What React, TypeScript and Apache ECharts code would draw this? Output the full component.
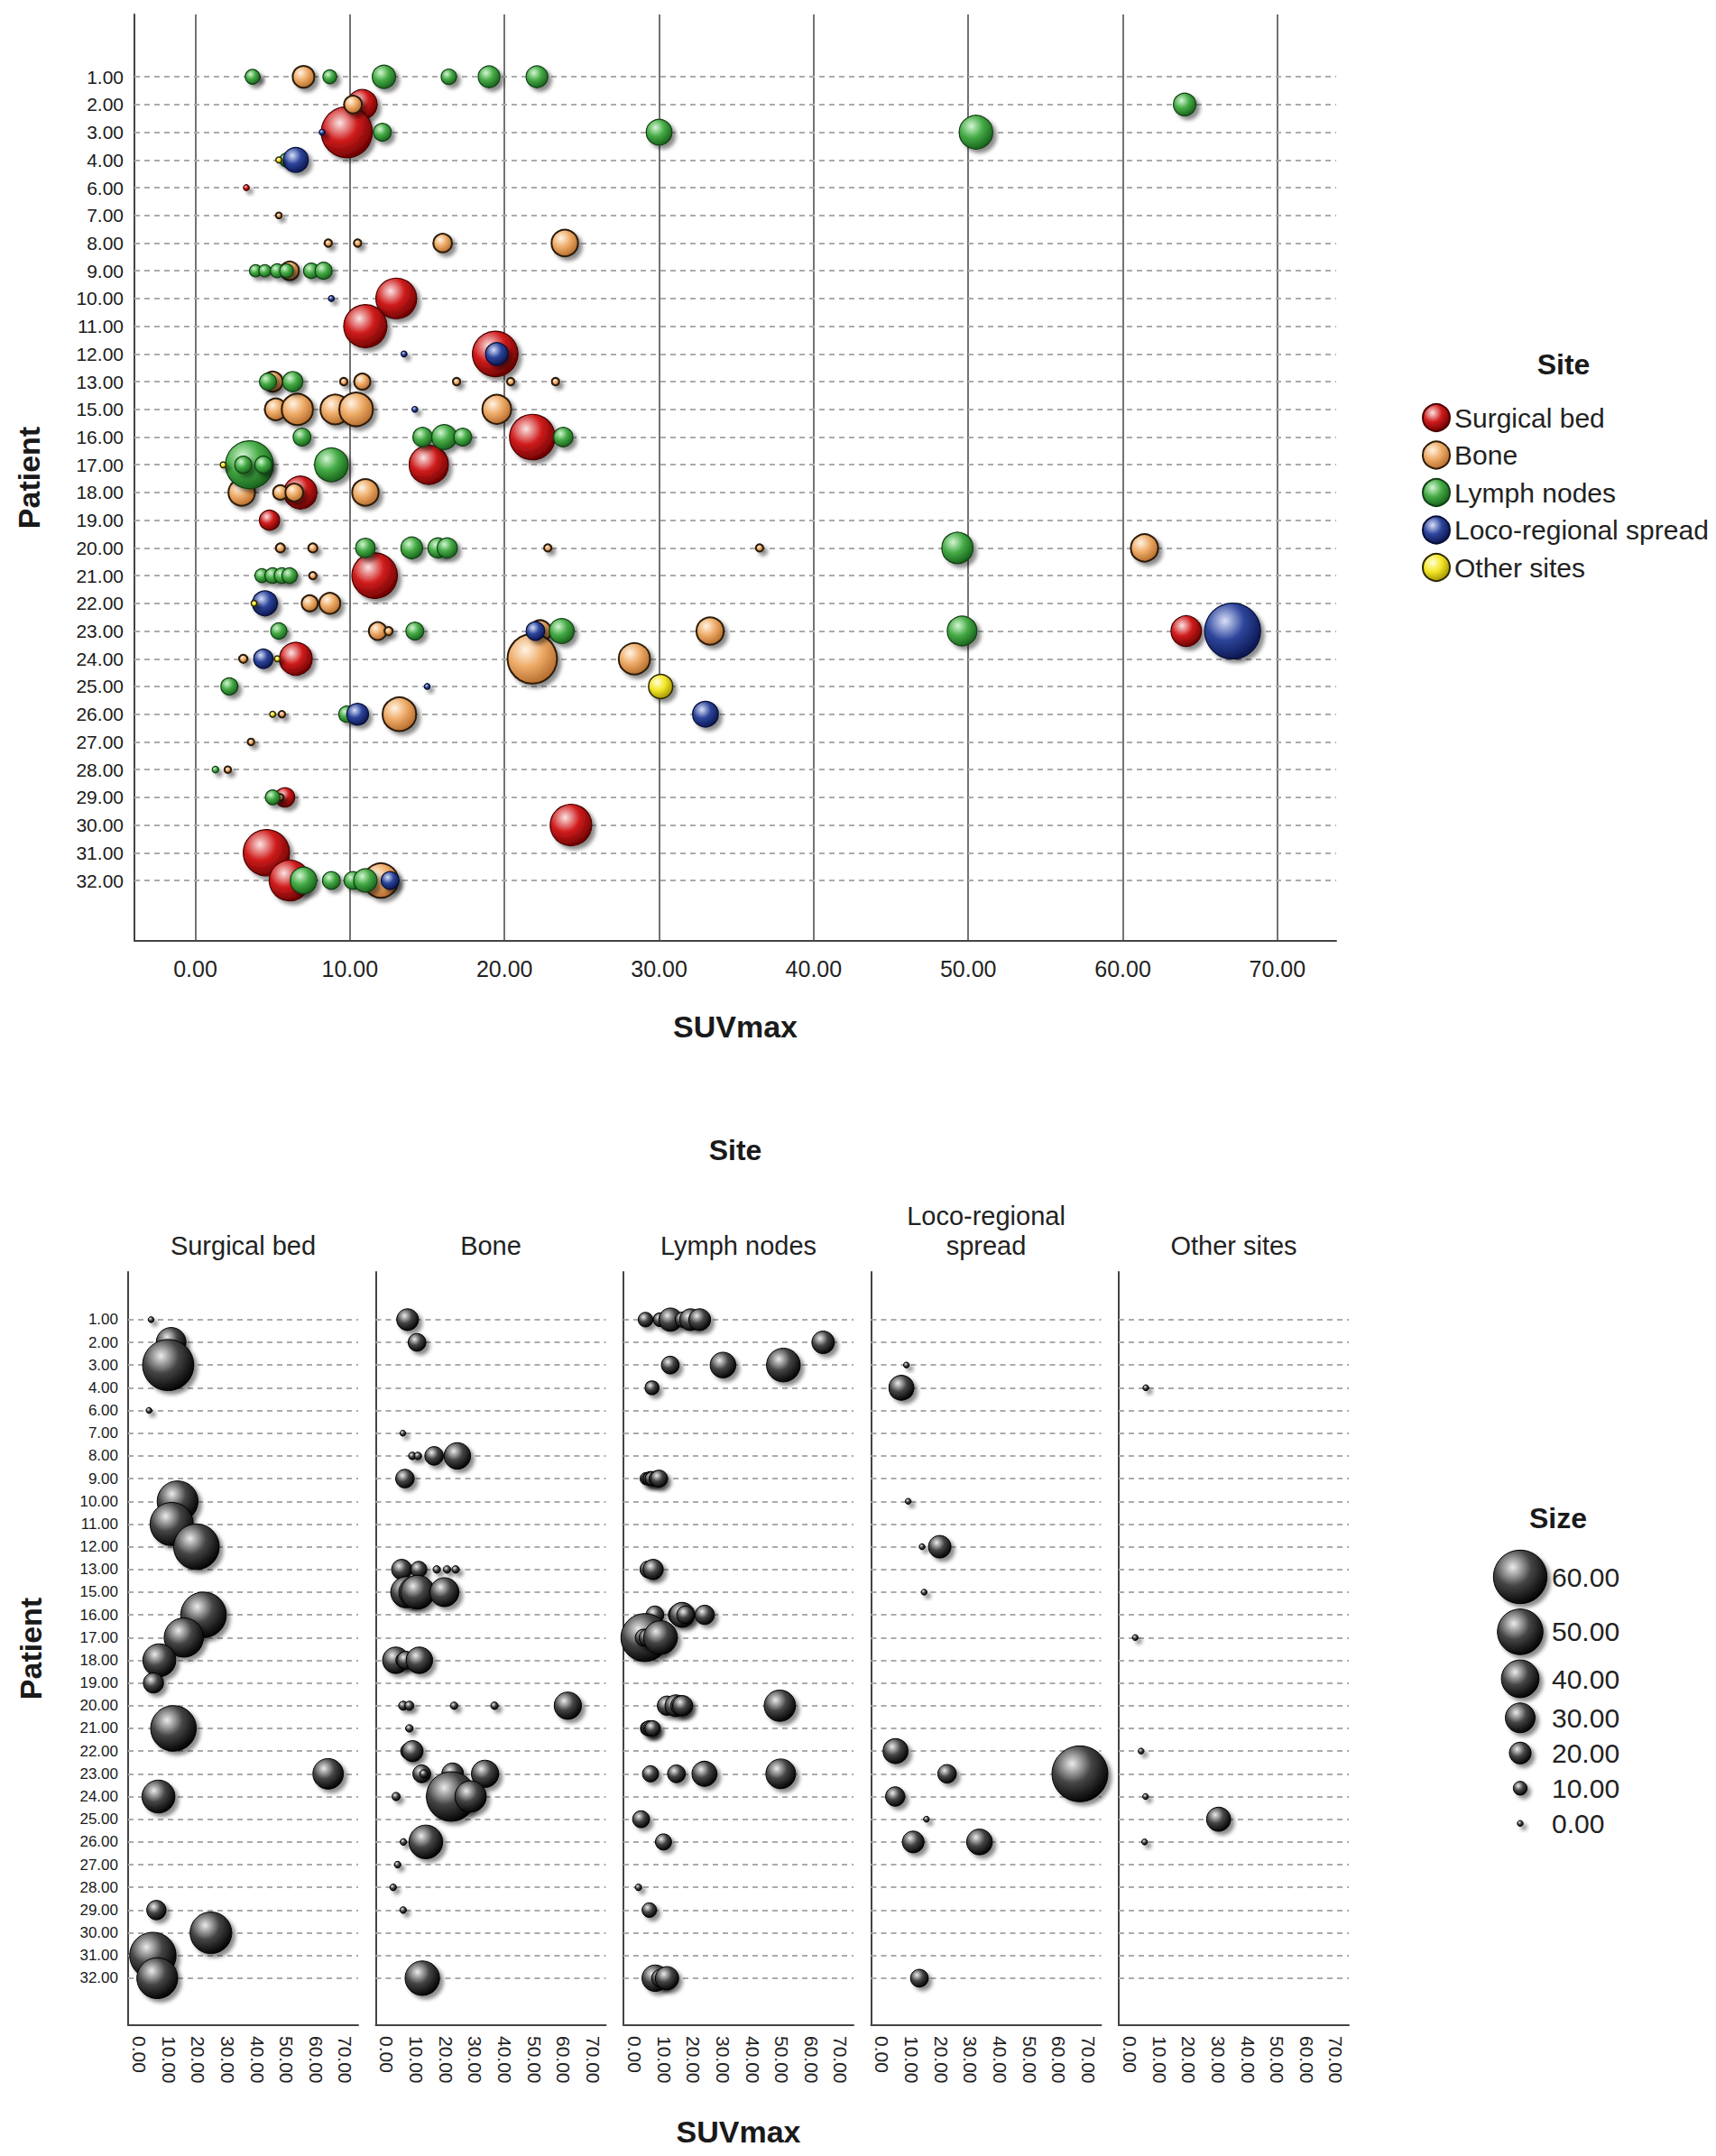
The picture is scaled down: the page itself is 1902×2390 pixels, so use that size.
import React, { useEffect, useRef } from 'react';
import * as echarts from 'echarts';

// ---------- data ----------
const PATIENTS = ['1.00','2.00','3.00','4.00','6.00','7.00','8.00','9.00','10.00','11.00','12.00','13.00','15.00','16.00','17.00','18.00','19.00','20.00','21.00','22.00','23.00','24.00','25.00','26.00','27.00','28.00','29.00','30.00','31.00','32.00'];
const SITES = ['Surgical bed', 'Bone', 'Lymph nodes', 'Loco-regional spread', 'Other sites'];
const PANEL_HEADERS = ['Surgical bed', 'Bone', 'Lymph nodes', 'Loco-regional\nspread', 'Other sites'];
const SUV_TICKS = [0, 10, 20, 30, 40, 50, 60, 70];
const SIZE_TICKS = [60, 50, 40, 30, 20, 10, 0];

// [patient, SUVmax, size]
type Pt = [string, number, number];

const SURGICAL_BED: Pt[] = [
  ['1.00', 4.0, 0], ['2.00', 10.8, 30], ['3.00', 9.8, 57], ['6.00', 3.3, 0],
  ['10.00', 13.0, 44], ['11.00', 11.0, 47], ['12.00', 19.4, 50], ['16.00', 21.8, 50],
  ['17.00', 15.1, 42], ['18.00', 6.8, 34], ['19.00', 4.8, 18], ['21.00', 11.6, 50],
  ['23.00', 64.1, 31], ['24.00', 6.5, 34], ['29.00', 5.8, 17], ['30.00', 24.3, 45],
  ['31.00', 4.6, 51], ['32.00', 6.1, 44],
];

const BONE: Pt[] = [
  ['1.00', 7.0, 20], ['2.00', 10.2, 15], ['7.00', 5.4, 0],
  ['8.00', 8.6, 2], ['8.00', 10.5, 2], ['8.00', 16.0, 16], ['8.00', 23.9, 26],
  ['9.00', 6.1, 16],
  ['13.00', 5.0, 18], ['13.00', 9.6, 2], ['13.00', 10.8, 13], ['13.00', 16.9, 2], ['13.00', 20.4, 2], ['13.00', 23.3, 2],
  ['15.00', 5.2, 20], ['15.00', 6.6, 32], ['15.00', 9.05, 30], ['15.00', 10.4, 35], ['15.00', 19.5, 29],
  ['18.00', 3.0, 26], ['18.00', 5.5, 11], ['18.00', 6.4, 15], ['18.00', 11.0, 26],
  ['20.00', 5.5, 4], ['20.00', 7.6, 4], ['20.00', 22.8, 2], ['20.00', 36.5, 2], ['20.00', 61.4, 27],
  ['21.00', 7.6, 2], ['22.00', 7.4, 13], ['22.00', 8.7, 19],
  ['23.00', 11.8, 15], ['23.00', 12.5, 3], ['23.00', 22.3, 20], ['23.00', 33.3, 27],
  ['24.00', 3.1, 3], ['24.00', 21.8, 55], ['24.00', 28.4, 32],
  ['26.00', 5.6, 1], ['26.00', 13.2, 35], ['27.00', 3.6, 1], ['28.00', 2.1, 1],
  ['29.00', 5.5, 1], ['32.00', 12.0, 36],
];

const LYMPH_NODES: Pt[] = [
  ['1.00', 3.7, 11], ['1.00', 8.7, 10], ['1.00', 12.2, 22], ['1.00', 16.4, 12], ['1.00', 19.0, 20], ['1.00', 22.1, 20],
  ['2.00', 64.0, 21],
  ['3.00', 12.1, 15], ['3.00', 30.0, 25], ['3.00', 50.5, 35],
  ['4.00', 5.9, 10],
  ['9.00', 3.9, 8], ['9.00', 4.5, 8], ['9.00', 5.3, 10], ['9.00', 5.9, 10], ['9.00', 7.5, 12], ['9.00', 8.3, 14],
  ['13.00', 4.7, 14], ['13.00', 6.3, 18],
  ['16.00', 6.9, 15], ['16.00', 14.7, 17], ['16.00', 16.1, 24], ['16.00', 17.3, 15], ['16.00', 23.8, 17],
  ['17.00', 3.5, 53], ['17.00', 3.1, 14], ['17.00', 4.4, 14], ['17.00', 8.8, 35],
  ['20.00', 11.0, 17], ['20.00', 14.0, 20], ['20.00', 15.7, 18], ['20.00', 16.3, 18], ['20.00', 49.3, 32],
  ['21.00', 4.3, 10], ['21.00', 5.0, 12], ['21.00', 5.6, 12], ['21.00', 6.1, 12],
  ['23.00', 5.4, 13], ['23.00', 14.2, 15], ['23.00', 23.7, 24], ['23.00', 49.6, 30],
  ['25.00', 2.2, 14], ['26.00', 9.8, 13], ['28.00', 1.3, 1], ['29.00', 5.0, 11],
  ['32.00', 7.0, 26], ['32.00', 8.8, 15], ['32.00', 10.2, 15], ['32.00', 11.0, 22],
];

const LOCO_REGIONAL: Pt[] = [
  ['3.00', 8.2, 0], ['4.00', 6.5, 24], ['10.00', 8.8, 0], ['12.00', 13.5, 0], ['12.00', 19.5, 21],
  ['15.00', 14.2, 0], ['22.00', 4.5, 24], ['23.00', 22.0, 16], ['23.00', 67.1, 63],
  ['24.00', 4.4, 17], ['25.00', 15.0, 0], ['26.00', 10.5, 20], ['26.00', 33.0, 25], ['32.00', 12.6, 15],
];

const OTHER_SITES: Pt[] = [
  ['4.00', 5.4, 0], ['17.00', 1.8, 0], ['22.00', 3.8, 0], ['24.00', 5.3, 0], ['25.00', 30.1, 23], ['26.00', 5.0, 0],
];

const SITE_DATA: Pt[][] = [SURGICAL_BED, BONE, LYMPH_NODES, LOCO_REGIONAL, OTHER_SITES];

// ---------- styles ----------
const FONT = '"Liberation Sans", Arial, Helvetica, sans-serif';
const SITE_STYLE = [
  { light: '#fbe4e4', base: '#d01c1c', dark: '#6a0000', border: '#4a0000', bw: 1.2 },
  { light: '#fff4e4', base: '#eeab68', dark: '#b36a2a', border: '#2c1a08', bw: 2 },
  { light: '#d4f6d4', base: '#45ab45', dark: '#175f1a', border: '#123f14', bw: 1.2 },
  { light: '#d8e0fa', base: '#2d459b', dark: '#0a154e', border: '#070f36', bw: 1.2 },
  { light: '#ffffd8', base: '#f4e628', dark: '#a29300', border: '#2c2800', bw: 1.5 },
];
const GRAY = { light: '#ececec', base: '#454545', dark: '#000000', border: '#000000', bw: 1 };
const SHADOW = { shadowColor: 'rgba(0,0,0,0.45)', shadowBlur: 4, shadowOffsetX: 4, shadowOffsetY: 4 };

const sizeToDiameter = (s: number) => 6.5 + 0.88 * s;

const sphereFill = (st: { light: string; base: string; dark: string }) => ({
  type: 'radial', x: 0.36, y: 0.32, r: 0.72,
  colorStops: [
    { offset: 0, color: st.light },
    { offset: 0.48, color: st.base },
    { offset: 1, color: st.dark },
  ],
});

const toPoint = (p: Pt) => [p[1], PATIENTS.indexOf(p[0]), p[2]];

// layout
const TOP = { left: 149, top: 16, width: 1332, height: 1027 };
const PANEL = { left0: 142, step: 274.5, top: 1410, width: 255, height: 835 };

function buildOption() {
  const axisLineStyle = { color: '#444', width: 2 };
  const dashed = { type: [6, 5], color: '#ababab', width: 2 };

  const grids: any[] = [{ left: TOP.left, top: TOP.top, width: TOP.width, height: TOP.height }];
  const xAxes: any[] = [{
    type: 'value', gridIndex: 0, min: -3.94, max: 73.8,
    axisLine: { show: true, onZero: false, lineStyle: axisLineStyle },
    axisTick: { show: false }, splitLine: { show: false },
    axisLabel: { customValues: SUV_TICKS, formatter: (v: number) => v.toFixed(2), fontSize: 25, color: '#222', margin: 18, fontFamily: FONT },
    name: 'SUVmax', nameLocation: 'middle', nameGap: 78,
    nameTextStyle: { fontSize: 34, fontWeight: 'bold', color: '#1a1a1a', fontFamily: FONT },
  }];
  const yAxes: any[] = [{
    type: 'value', gridIndex: 0, inverse: true, min: -2.25, max: 31.18,
    axisLine: { show: true, onZero: false, lineStyle: axisLineStyle },
    axisTick: { show: false }, splitLine: { show: false },
    axisLabel: { customValues: PATIENTS.map((_, i) => i), formatter: (v: number) => PATIENTS[Math.round(v)] ?? '', fontSize: 21, color: '#1a1a1a', margin: 12, fontFamily: FONT },
    name: 'Patient', nameLocation: 'middle', nameGap: 100,
    nameTextStyle: { fontSize: 34, fontWeight: 'bold', color: '#1a1a1a', fontFamily: FONT },
  }];

  SITES.forEach((_, i) => {
    grids.push({ left: PANEL.left0 + i * PANEL.step, top: PANEL.top, width: PANEL.width, height: PANEL.height });
    xAxes.push({
      type: 'value', gridIndex: i + 1, min: -3.8, max: 74.3,
      axisLine: { show: true, onZero: false, lineStyle: axisLineStyle },
      axisTick: { show: false }, splitLine: { show: false },
      axisLabel: { customValues: SUV_TICKS, formatter: (v: number) => v.toFixed(2), rotate: -90, fontSize: 21, color: '#222', margin: 12, fontFamily: FONT },
      ...(i === 2 ? {
        name: 'SUVmax', nameLocation: 'middle', nameGap: 101,
        nameTextStyle: { fontSize: 34, fontWeight: 'bold', color: '#1a1a1a', fontFamily: FONT },
      } : {}),
    });
    yAxes.push({
      type: 'value', gridIndex: i + 1, inverse: true, min: -2.1, max: 31.07,
      axisLine: { show: true, onZero: false, lineStyle: axisLineStyle },
      axisTick: { show: false }, splitLine: { show: false },
      axisLabel: i === 0
        ? { customValues: PATIENTS.map((_, k) => k), formatter: (v: number) => PATIENTS[Math.round(v)] ?? '', fontSize: 17, color: '#1a1a1a', margin: 11, fontFamily: FONT }
        : { show: false },
      ...(i === 0 ? {
        name: 'Patient', nameLocation: 'middle', nameGap: 91,
        nameTextStyle: { fontSize: 34, fontWeight: 'bold', color: '#1a1a1a', fontFamily: FONT },
      } : {}),
    });
  });

  const rowLines = PATIENTS.map((_, i) => ({ yAxis: i, lineStyle: dashed }));
  const markBase = { silent: true, symbol: ['none', 'none'], label: { show: false }, z: 1, animation: false, emphasis: { disabled: true } };

  const series: any[] = [];
  SITES.forEach((site, si) => {
    const st = SITE_STYLE[si];
    series.push({
      type: 'scatter', name: site, xAxisIndex: 0, yAxisIndex: 0, z: 3,
      data: SITE_DATA[si].map(toPoint),
      symbolSize: (v: number[]) => sizeToDiameter(v[2]),
      itemStyle: { color: sphereFill(st), borderColor: st.border, borderWidth: st.bw, opacity: 1, ...SHADOW },
      emphasis: { disabled: true },
      ...(si === 0 ? {
        markLine: {
          ...markBase,
          data: [
            ...SUV_TICKS.map((v) => ({ xAxis: v, lineStyle: { type: 'solid', color: '#505050', width: 1.6 } })),
            ...rowLines,
          ],
        },
      } : {}),
    });
  });
  SITES.forEach((site, si) => {
    series.push({
      type: 'scatter', name: 'panel ' + site, xAxisIndex: si + 1, yAxisIndex: si + 1, z: 3,
      data: SITE_DATA[si].map(toPoint),
      symbolSize: (v: number[]) => sizeToDiameter(v[2]),
      itemStyle: { color: sphereFill(GRAY), borderColor: GRAY.border, borderWidth: GRAY.bw, opacity: 1, ...SHADOW },
      emphasis: { disabled: true },
      markLine: { ...markBase, data: rowLines },
    });
  });

  // graphic texts and size legend
  const graphic: any[] = [
    { type: 'text', x: 1733, y: 404, style: { text: 'Site', fontSize: 32, fontWeight: 'bold', fontFamily: FONT, fill: '#1a1a1a', align: 'center', verticalAlign: 'middle' } },
    { type: 'text', x: 815, y: 1275, style: { text: 'Site', fontSize: 32, fontWeight: 'bold', fontFamily: FONT, fill: '#1a1a1a', align: 'center', verticalAlign: 'middle' } },
    { type: 'text', x: 1727, y: 1683, style: { text: 'Size', fontSize: 32, fontWeight: 'bold', fontFamily: FONT, fill: '#1a1a1a', align: 'center', verticalAlign: 'middle' } },
  ];
  PANEL_HEADERS.forEach((h, i) => {
    graphic.push({
      type: 'text', x: PANEL.left0 + i * PANEL.step + PANEL.width / 2, y: 1397,
      style: { text: h, fontSize: 29, lineHeight: 33, fontFamily: FONT, fill: '#222', align: 'center', verticalAlign: 'bottom' },
    });
  });
  let y = 1748;
  let prevD = 0;
  SIZE_TICKS.forEach((s, i) => {
    const d = sizeToDiameter(s);
    if (i > 0) y += Math.max(39, (prevD + d) / 2 + 6);
    prevD = d;
    graphic.push({
      type: 'circle', shape: { cx: 1685, cy: y, r: d / 2 },
      style: { fill: new echarts.graphic.RadialGradient(0.36, 0.32, 0.72, sphereFill(GRAY).colorStops), stroke: '#000', lineWidth: 1, ...SHADOW },
    });
    graphic.push({
      type: 'text', x: 1720, y,
      style: { text: s.toFixed(2), fontSize: 30, fontFamily: FONT, fill: '#222', align: 'left', verticalAlign: 'middle' },
    });
  });

  return {
    animation: false,
    backgroundColor: '#ffffff',
    textStyle: { fontFamily: FONT },
    grid: grids,
    xAxis: xAxes,
    yAxis: yAxes,
    legend: {
      data: SITES, orient: 'vertical', left: 1571, top: 442,
      itemWidth: 30, itemHeight: 30, itemGap: 9.5, icon: 'circle', selectedMode: false,
      textStyle: { fontSize: 30, fontFamily: FONT, color: '#222' },
    },
    series,
    graphic,
  };
}

export default function App() {
  const ref = useRef<HTMLDivElement>(null);
  useEffect(() => {
    if (!ref.current) return;
    const chart = echarts.init(ref.current, undefined, { renderer: 'svg' });
    chart.setOption(buildOption() as any);
    return () => chart.dispose();
  }, []);
  return (
    <div
      ref={ref}
      style={{ position: 'absolute', left: 0, top: 0, width: 1902, height: 2390, background: '#fff' }}
    />
  );
}
